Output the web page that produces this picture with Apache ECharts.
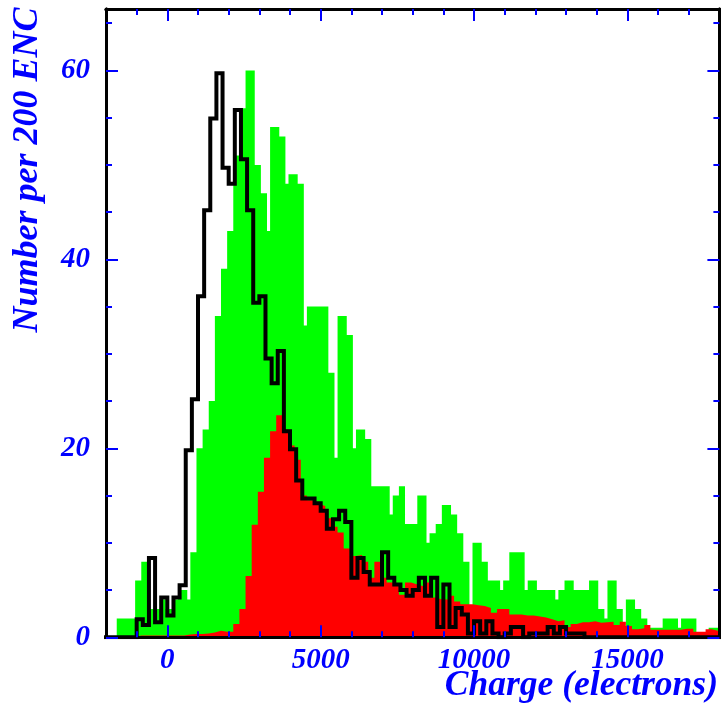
<!DOCTYPE html>
<html><head><meta charset="utf-8">
<script src="https://cdn.jsdelivr.net/npm/echarts@6/dist/echarts.min.js"></script>
<style>html,body{margin:0;padding:0;background:#fff}#c{width:721px;height:705px}</style>
</head><body><div id="c"></div>
<script>
// ---- axis ranges & ticks ----
const xMin = -2000, xMax = 18000, yMin = 0, yMax = 66.5;
const xMajorTicks = [0, 5000, 10000, 15000];
const xMinorTicks = [-1000, 1000, 2000, 3000, 4000, 6000, 7000, 8000, 9000, 11000, 12000, 13000, 14000, 16000, 17000];
const yMajorTicks = [0, 20, 40, 60];
const yMinorTicks = [5, 10, 15, 25, 30, 35, 45, 50, 55, 65];
const xTitle = 'Charge (electrons)';
const yTitle = 'Number per 200 ENC';

// ---- green histogram: bins of 100, first bin starts at -2050 ----
const greenStart = -2050, greenWidth = 100;
const greenValues = [
  0,0,0,0,2,2,2,2,2,2,
  6,6,8,8,3,3,3,3,4,4,
  3,3,3,4,5,5,5,4,9,9,
  20,20,22,22,25,25,34,34,39,39,
  43,43,51,51,56,56,60,60,60,50,
  50,47,47,43,54,54,54,53,53,48,
  49,49,49,48,48,33,35,35,35,35,
  35,35,35,28,28,19,34,34,34,32,
  32,20,22,22,22,21,21,16,16,16,
  16,16,16,13,15,15,16,16,12,12,
  12,12,15,15,15,10,11,11,12,12,
  14,14,14,13,13,11,11,8,8,3,
  10,10,10,8,8,6,6,6,6,5,
  6,6,9,9,9,9,9,5,6,6,
  6,5,5,5,5,5,5,4,5,5,
  6,6,6,5,5,5,5,5,6,6,
  6,3,3,2,6,6,6,3,3,1,
  4,4,4,3,3,2,2,1,1,1,
  1,1,2,2,2,2,2,1,2,2,
  2,2,2,0,0,0,0.5,1,1,1,
  1
];

// ---- red histogram: bins of 200, first bin starts at -2050 ----
const redStart = -2050, redWidth = 200;
const redValues = [
  0,0,0,0,0,0.2,0.2,0.2,0.2,0.2,
  0.2,0.2,0.2,0.3,0.35,0.35,0.4,0.5,0.7,0.6,
  0.6,1.4,3.0,6.5,11.9,15.4,19,21.8,23.5,22,
  20.3,18.8,15,14.5,14.1,13.9,12.6,11.7,11.1,9.4,
  8.6,8.7,8.0,6.3,8.0,6.3,5.8,5.6,4.5,5.8,
  5.6,5.4,5.8,4.2,4.0,4.0,4.4,3.8,3.5,3.5,
  3.4,3.3,3.1,2.6,3.0,3.0,2.4,2.4,2.3,2.3,
  2.2,2.1,1.9,1.7,1.8,1.1,1.4,1.6,1.6,1.7,
  1.55,1.6,1.65,1.3,1.65,1.2,0.85,0.95,1.3,0.8,
  0.8,0.8,0.8,0.8,0.9,0.9,0.6,0.6,0.85,0.7,
  0.6
];

// ---- black outline histogram: bins of 200 from -2000 ----
const blackStart = -2000, blackWidth = 200;
const blackValues = [
  0,0,0,0,0,1.9,1.3,8.4,1.6,4.2,
  2.3,4.2,5.5,19.8,25.2,36.1,45.2,54.9,59.7,49.7,
  48,55.8,50.6,45.2,35.4,36.1,29.5,26.9,30.3,21.8,
  19.9,16.6,14.7,14.7,14.2,13.4,11.5,12.5,13.4,12.2,
  6.3,8.4,6.9,5.6,5.6,9.0,6.3,5.6,5.0,4.4,
  5.0,6.3,4.4,6.3,1.1,5.6,1.1,3.1,2.4,0.4,
  1.7,0.4,1.7,0.4,0,0.4,1.1,1.1,0,0.4,
  0.4,0.4,1.1,0.4,1.1,0.4,0.4,0.4,0,0,
  0,0,0,0,0,0,0,0,0,0,
  0,0,0,0,0,0,0,0,0,0
];

function stepData(start, width, values) {
  const d = values.map((v, i) => [start + width * i, v]);
  d.push([start + width * values.length, values[values.length - 1]]);
  return d;
}

const BLUE = '#0000ff';
const labelFont = { color: BLUE, fontFamily: 'Liberation Serif', fontStyle: 'italic', fontWeight: 'bold', fontSize: 29 };
const plainNum = v => String(v);

function xAx(pos, ticks, len, labels) {
  return {
    type: 'value', position: pos, min: xMin, max: xMax, z: 10,
    axisLine: { show: true, onZero: false, lineStyle: { color: '#000', width: 3 } },
    axisTick: { show: true, inside: true, length: len, customValues: ticks, lineStyle: { color: BLUE, width: 2 } },
    axisLabel: labels ? Object.assign({ show: true, margin: 9, customValues: ticks, formatter: plainNum }, labelFont) : { show: false },
    splitLine: { show: false }
  };
}
function yAx(pos, ticks, len, labels) {
  return {
    type: 'value', position: pos, min: yMin, max: yMax, z: 10,
    axisLine: { show: true, onZero: false, lineStyle: { color: '#000', width: 3 } },
    axisTick: { show: true, inside: true, length: len, customValues: ticks, lineStyle: { color: BLUE, width: 2 } },
    axisLabel: labels ? Object.assign({ show: true, margin: 16, customValues: ticks, formatter: plainNum }, labelFont) : { show: false },
    splitLine: { show: false }
  };
}

const chart = echarts.init(document.getElementById('c'), null, { renderer: 'canvas' });
chart.setOption({
  animation: false,
  backgroundColor: '#fff',
  grid: { left: 106, right: 1.6, top: 9, bottom: 67.7 },
  xAxis: [
    xAx('bottom', xMajorTicks, 12, true),
    xAx('bottom', xMinorTicks, 6, false),
    xAx('top', xMajorTicks, 12, false),
    xAx('top', xMinorTicks, 6, false)
  ],
  yAxis: [
    yAx('left', yMajorTicks, 12, true),
    yAx('left', yMinorTicks, 6, false),
    yAx('right', yMajorTicks, 12, false),
    yAx('right', yMinorTicks, 6, false)
  ],
  series: [
    { type: 'line', step: 'end', symbol: 'none', z: 2, data: stepData(greenStart, greenWidth, greenValues),
      lineStyle: { width: 0, color: '#00ff00' }, areaStyle: { color: '#00ff00', opacity: 1 } },
    { type: 'line', step: 'end', symbol: 'none', z: 3, data: stepData(redStart, redWidth, redValues),
      lineStyle: { width: 0, color: '#ff0000' }, areaStyle: { color: '#ff0000', opacity: 1 } },
    { type: 'line', step: 'end', symbol: 'none', z: 4, data: stepData(blackStart, blackWidth, blackValues),
      lineStyle: { width: 4, color: '#000', join: 'miter', cap: 'square' } }
  ],
  graphic: [
    { type: 'text', right: 3, top: 668, z: 20,
      style: { text: xTitle, fill: BLUE, font: 'italic bold 35.5px "Liberation Serif"' } },
    { type: 'text', x: 28, y: 170, rotation: Math.PI / 2, z: 20,
      style: { text: yTitle, fill: BLUE, font: 'italic bold 36px "Liberation Serif"', align: 'center', verticalAlign: 'middle' } }
  ]
});
</script></body></html>
